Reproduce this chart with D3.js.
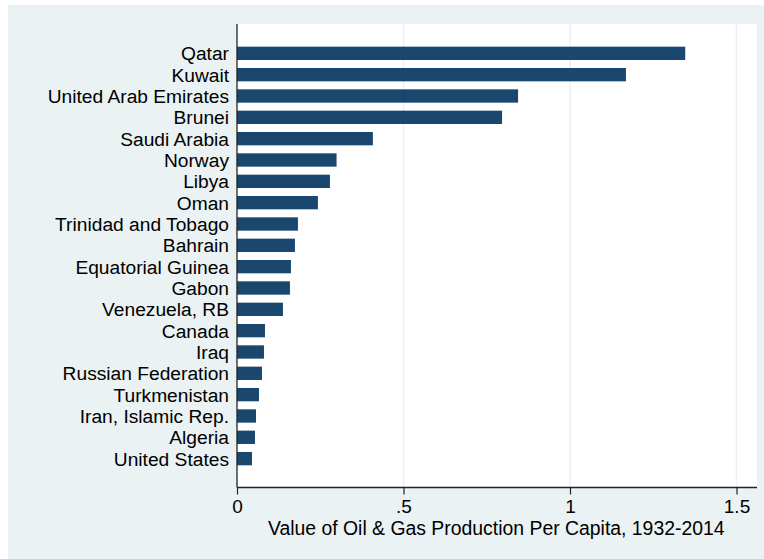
<!DOCTYPE html>
<html>
<head>
<meta charset="utf-8">
<script src="https://cdn.jsdelivr.net/npm/d3@7"></script>
<style>
  body { margin: 0; background: #fff; }
  text { font-family: "Liberation Sans", Arial, Helvetica, sans-serif; fill: #000; }
</style>
</head>
<body>
<div id="chart"></div>
<script>
const countries = [
    "Qatar", "Kuwait", "United Arab Emirates", "Brunei", "Saudi Arabia",
    "Norway", "Libya", "Oman", "Trinidad and Tobago", "Bahrain",
    "Equatorial Guinea", "Gabon", "Venezuela, RB", "Canada", "Iraq",
    "Russian Federation", "Turkmenistan", "Iran, Islamic Rep.", "Algeria", "United States"
];
const values = [
    1.346, 1.168, 0.844, 0.796, 0.408,
    0.299, 0.279, 0.243, 0.183, 0.174,
    0.162, 0.159, 0.138, 0.084, 0.081,
    0.075, 0.066, 0.057, 0.054, 0.045
];
const tickValues = [0, 0.5, 1, 1.5];
const tickLabels = ["0", ".5", "1", "1.5"];
const axisTitle = "Value of Oil & Gas Production Per Capita, 1932-2014";

const data = countries.map((c, i) => ({ country: c, value: values[i] }));

const width = 764, height = 559;
const plot = { left: 237, right: 757, top: 24, bottom: 487.5 };

const svg = d3.select("#chart")
    .append("svg")
    .attr("width", width)
    .attr("height", height);

// outer graph region
svg.append("rect")
    .attr("x", 8).attr("y", 5)
    .attr("width", width - 8).attr("height", height - 5)
    .attr("fill", "#eaf2f3");

// plot region
svg.append("rect")
    .attr("x", plot.left).attr("y", plot.top)
    .attr("width", plot.right - plot.left).attr("height", plot.bottom - plot.top)
    .attr("fill", "#fff");

const x = d3.scaleLinear()
    .domain([0, 1.5])
    .range([237, 736.5]);

const y = d3.scaleBand()
    .domain(countries)
    .range([42.67, 469.3])
    .paddingInner(0.375)
    .paddingOuter(0.1875);

// gridlines
svg.append("g")
    .selectAll("line")
    .data(tickValues.filter(d => d > 0))
    .enter()
    .append("line")
    .attr("x1", d => x(d)).attr("x2", d => x(d))
    .attr("y1", plot.top).attr("y2", plot.bottom)
    .attr("stroke", "#eaf2f3")
    .attr("stroke-width", 1.6);

// bars
svg.selectAll(".bar")
    .data(data)
    .enter()
    .append("rect")
    .attr("class", "bar")
    .attr("x", x(0))
    .attr("y", d => y(d.country))
    .attr("width", d => x(d.value) - x(0))
    .attr("height", y.bandwidth())
    .attr("fill", "#1a476f");

// x axis
const xAxis = svg.append("g")
    .attr("transform", `translate(0,${plot.bottom})`)
    .call(d3.axisBottom(x)
        .tickValues(tickValues)
        .tickFormat((d, i) => tickLabels[i])
        .tickSize(7)
        .tickPadding(5));
xAxis.select(".domain")
    .attr("d", `M${plot.left},0H${plot.right}`)
    .attr("stroke", "#222")
    .attr("stroke-width", 1.3);
xAxis.selectAll(".tick line").attr("stroke", "#222").attr("stroke-width", 1.2);
xAxis.selectAll(".tick text")
    .attr("font-size", 19)
    .style("font-family", "'Liberation Sans', Arial, sans-serif")
    .attr("fill", "#000");

// y axis (labels only, no ticks)
const yAxis = svg.append("g")
    .attr("transform", `translate(${plot.left},0)`)
    .call(d3.axisLeft(y).tickSize(0).tickPadding(8));
yAxis.select(".domain")
    .attr("d", `M0,${plot.top}V${plot.bottom}`)
    .attr("stroke", "#222")
    .attr("stroke-width", 1.3);
yAxis.selectAll(".tick text")
    .attr("font-size", 19.2)
    .attr("dy", "0.36em")
    .style("font-family", "'Liberation Sans', Arial, sans-serif")
    .attr("fill", "#000");

// axis title
svg.append("text")
    .attr("x", (268 + 724.5) / 2)
    .attr("y", 535)
    .attr("text-anchor", "middle")
    .attr("font-size", 19.4)
    .text(axisTitle);
</script>
</body>
</html>
